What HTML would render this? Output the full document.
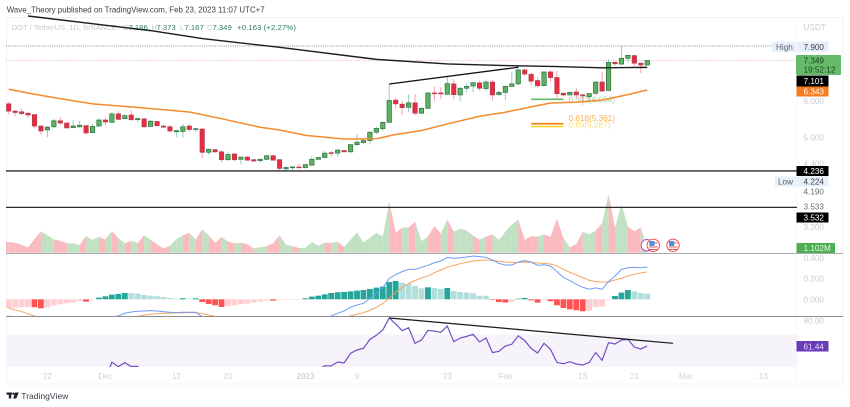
<!DOCTYPE html>
<html lang="en">
<head>
<meta charset="utf-8">
<title>DOT / TetherUS chart</title>
<style>
html,body{margin:0;padding:0;background:#fff;width:850px;height:407px;overflow:hidden}
svg{display:block;filter:blur(.3px);font-family:"Liberation Sans",sans-serif}
.ax{font-size:8.2px;fill:#c9ccd3}
.tm{font-size:8px;fill:#d0d3da;text-anchor:middle}
.tag{font-size:8.2px}
</style>
</head>
<body>
<svg id="chart" width="850" height="407" viewBox="0 0 850 407" xmlns="http://www.w3.org/2000/svg">
  <rect x="0" y="0" width="850" height="407" fill="#ffffff"/>
  <rect x="6.5" y="17.5" width="836.5" height="366.5" fill="none" stroke="#f1f3f8" stroke-width="1"/>
  <line x1="797" y1="18" x2="797" y2="384" stroke="#f6f7fa" stroke-width="1"/>
  <text x="6.7" y="12.5" font-size="8.6" fill="#3a3d45" textLength="258" lengthAdjust="spacingAndGlyphs">Wave_Theory published on TradingView.com, Feb 23, 2023 11:07 UTC+7</text>
  <g font-size="7.7">
    <text x="11.7" y="30" fill="#c8cbd3" textLength="105" lengthAdjust="spacingAndGlyphs">DOT / TetherUS, 1D, BINANCE</text>
    <text x="123" y="30" fill="#c8cbd3">O</text>
    <text x="128.5" y="30" fill="#2f7d5c">7.186</text>
    <text x="151.5" y="30" fill="#c8cbd3">H</text>
    <text x="156.5" y="30" fill="#2f7d5c">7.373</text>
    <text x="180" y="30" fill="#c8cbd3">L</text>
    <text x="184.5" y="30" fill="#2f7d5c">7.167</text>
    <text x="207" y="30" fill="#c8cbd3">C</text>
    <text x="212.5" y="30" fill="#2f7d5c">7.349</text>
    <text x="237" y="30" fill="#2f7d5c" textLength="59" lengthAdjust="spacingAndGlyphs">+0.163 (+2.27%)</text>
  </g>
  <g id="g-rsi-band"></g>
  <g id="g-volume"></g>
  <g id="g-macd"></g>
  <g id="g-guides"></g>
  <g id="g-candles"></g>
  <g id="g-lines"></g>
  <g id="g-rsi"></g>
  <line x1="6" y1="253.5" x2="843" y2="253.5" stroke="#a9abb0" stroke-width="1"/>
  <line x1="6" y1="316.5" x2="843" y2="316.5" stroke="#8b8d92" stroke-width="1"/>
  <g id="g-axis"></g>
  <g>
    <circle cx="647" cy="245.3" r="5.8" fill="#fff" stroke="#ab47bc" stroke-width="1"/>
    <g>
      <circle cx="653.3" cy="245.3" r="6.2" fill="#fff" stroke="#ef5350" stroke-width="1"/>
      <rect x="649" y="242.5" width="8.6" height="1" fill="#ef5350"/>
      <rect x="649" y="246.5" width="8.6" height="1" fill="#ef5350"/>
      <rect x="649" y="249" width="8.6" height="1" fill="#ef5350"/>
      <rect x="649.5" y="241" width="5" height="5" fill="#4a90e2"/>
    </g>
    <g>
      <circle cx="673" cy="245.3" r="6.2" fill="#fff" stroke="#ef5350" stroke-width="1"/>
      <rect x="668.7" y="242.5" width="8.6" height="1" fill="#ef5350"/>
      <rect x="668.7" y="246.5" width="8.6" height="1" fill="#ef5350"/>
      <rect x="668.7" y="249" width="8.6" height="1" fill="#ef5350"/>
      <rect x="669.2" y="241" width="5" height="5" fill="#4a90e2"/>
    </g>
  </g>
  <g>
    <text class="ax" x="803.5" y="30">USDT</text>
    <rect x="772" y="41.5" width="24" height="10.5" rx="1" fill="#e6effa"/>
    <text class="tag" x="776" y="49.8" fill="#5d606b">High</text>
    <rect x="796.5" y="41.5" width="32" height="10.5" rx="1" fill="#e6effa"/>
    <text class="tag" x="803.5" y="49.8" fill="#3e414a">7.900</text>
    <rect x="796" y="55" width="45" height="20" rx="1" fill="#66bb6a"/>
    <text class="tag" x="803.5" y="63.6" fill="#1c3d20">7.349</text>
    <text class="tag" x="803.5" y="72.6" fill="#1c3d20">19:52:12</text>
    <rect x="796.5" y="75.5" width="32" height="11" fill="#000"/>
    <text class="tag" x="803.5" y="83.8" fill="#fff">7.101</text>
    <rect x="796.5" y="86.5" width="32" height="10" fill="#f57c1f"/>
    <text class="tag" x="803.5" y="94.4" fill="#fff">6.343</text>
    <rect x="796.5" y="166" width="32" height="10" fill="#000"/>
    <text class="tag" x="803.5" y="174" fill="#fff">4.236</text>
    <rect x="775" y="176.5" width="21" height="10" rx="1" fill="#e6effa"/>
    <text class="tag" x="778" y="184.4" fill="#5d606b">Low</text>
    <rect x="796.5" y="176.5" width="32" height="10" rx="1" fill="#e6effa"/>
    <text class="tag" x="803.5" y="184.4" fill="#3e414a">4.224</text>
    <text class="tag" x="803.5" y="194.4" fill="#6a6d76">4.190</text>
    <text class="tag" x="803.5" y="209.7" fill="#6a6d76">3.533</text>
    <rect x="796.5" y="212.5" width="32" height="10" fill="#000"/>
    <text class="tag" x="803.5" y="220.5" fill="#fff">3.532</text>
    <text class="ax" x="803.5" y="230">3.200</text>
    <rect x="796.5" y="243" width="38.5" height="10" fill="#4caf50"/>
    <text class="tag" x="803.5" y="251" fill="#e8f5e9">1.102M</text>
    <rect x="796.5" y="341" width="32" height="10.5" fill="#673ab7"/>
    <text class="tag" x="803.5" y="349.3" fill="#e8def8">61.44</text>
  </g>
  <g>
    <g fill="#1e222d">
      <rect x="6.5" y="392.5" width="5.6" height="2.2"/>
      <rect x="8.8" y="392.5" width="2.4" height="6"/>
      <circle cx="13.6" cy="393.7" r="1.2"/>
      <polygon points="15.2,392.5 18.8,392.5 16.2,398.5 13.2,398.5"/>
    </g>
    <text x="21.3" y="399" font-size="8.6" fill="#3a3d45" textLength="47" lengthAdjust="spacingAndGlyphs">TradingView</text>
  </g>
</svg>
<script>
// Daily candles (USDT), 16 Nov 2022 to 23 Feb 2023
var opens=[5.92,5.71,5.69,5.65,5.61,5.30,5.20,5.28,5.44,5.38,5.26,5.28,5.31,5.13,5.30,5.46,5.40,5.63,5.50,5.60,5.47,5.49,5.29,5.42,5.30,5.28,5.15,5.16,5.30,5.21,5.22,4.65,4.71,4.66,4.48,4.61,4.49,4.54,4.48,4.46,4.49,4.57,4.48,4.28,4.31,4.32,4.31,4.36,4.49,4.53,4.64,4.63,4.69,4.66,4.83,4.88,4.93,5.14,5.23,5.40,6.03,5.91,5.82,5.95,5.65,5.79,6.25,6.25,6.21,6.54,6.19,6.40,6.47,6.57,6.39,6.60,6.20,6.27,6.46,6.54,7.01,6.86,6.65,6.48,6.94,6.75,6.24,6.19,6.28,6.19,6.14,6.24,6.60,6.33,7.28,7.22,7.43,7.53,7.25,7.186];
var highs=[5.98,5.74,5.78,5.67,5.63,5.32,5.30,5.49,5.54,5.39,5.46,5.44,5.33,5.36,5.52,5.52,5.69,5.71,5.63,5.74,5.52,5.53,5.46,5.44,5.33,5.33,5.20,5.36,5.36,5.26,5.25,4.73,4.72,4.70,4.66,4.63,4.55,4.56,4.50,4.50,4.59,4.59,4.50,4.34,4.34,4.39,4.39,4.56,4.54,4.68,4.68,4.74,4.70,4.85,5.09,4.96,5.16,5.28,5.42,6.54,6.09,6.01,6.21,6.21,5.82,6.28,6.45,6.43,6.81,6.70,6.42,6.56,6.61,6.65,6.67,6.67,6.32,6.49,6.93,7.13,7.07,6.90,6.78,6.95,7.01,6.97,6.27,6.29,6.40,6.24,6.25,6.63,6.94,7.40,7.32,7.90,7.56,7.56,7.27,7.373];
var lows=[5.60,5.56,5.60,5.52,5.24,5.07,5.01,5.25,5.33,5.25,5.24,5.25,5.07,5.11,5.28,5.32,5.38,5.46,5.48,5.44,5.41,5.26,5.27,5.28,5.25,5.14,5.01,5.00,5.15,5.13,4.52,4.59,4.64,4.42,4.46,4.44,4.38,4.46,4.44,4.41,4.47,4.46,4.24,4.24,4.25,4.30,4.28,4.35,4.48,4.51,4.55,4.55,4.65,4.64,4.80,4.84,4.84,5.09,5.18,5.39,5.77,5.60,5.68,5.59,5.63,5.77,6.01,6.06,6.19,6.06,6.01,6.26,6.27,6.32,6.31,6.01,6.16,6.03,6.44,6.51,6.80,6.50,6.40,6.47,6.61,6.09,6.15,6.17,6.06,5.89,5.97,6.19,6.29,6.31,7.15,7.19,7.26,7.13,6.90,7.167];
var closes=[5.71,5.67,5.64,5.60,5.30,5.17,5.27,5.44,5.38,5.25,5.30,5.32,5.12,5.29,5.46,5.41,5.63,5.48,5.58,5.47,5.50,5.28,5.43,5.31,5.27,5.17,5.18,5.28,5.21,5.23,4.65,4.72,4.66,4.48,4.60,4.48,4.54,4.47,4.45,4.49,4.57,4.47,4.29,4.31,4.32,4.31,4.37,4.49,4.53,4.63,4.63,4.70,4.66,4.83,4.89,4.93,5.14,5.24,5.40,6.02,5.92,5.81,5.95,5.65,5.79,6.25,6.23,6.22,6.55,6.20,6.40,6.46,6.58,6.40,6.60,6.19,6.27,6.46,6.54,7.01,6.87,6.63,6.48,6.94,6.75,6.23,6.19,6.27,6.19,6.16,6.23,6.60,6.31,7.28,7.23,7.43,7.54,7.25,7.186,7.349];
// Moving averages, read at selected days
var ma50Days=[0,4,8,13,19,28,33,39,42,46,52,57,60,64,68,73,77,81,84,88,92,96,99];
var ma50Values=[6.366,6.209,6.075,5.92,5.83,5.685,5.498,5.267,5.196,5.06,4.968,4.975,5.08,5.183,5.355,5.564,5.677,5.83,5.945,5.966,6.03,6.2,6.344];
var ma200Days=[3,22,30,42,57,68,79,85,92,99];
var ma200Values=[9.175,8.53,8.197,7.849,7.39,7.223,7.155,7.13,7.085,7.101];
// Volume in millions
var volumes=[2.5,2.34,1.8,1.25,3.2,5.0,4.1,3.1,2.8,2.2,2.2,1.8,3.9,3.0,3.7,3.1,5.1,3.4,2.2,2.8,2.2,4.1,3.0,2.0,1.0,1.6,3.2,4.1,4.6,3.1,5.5,4.1,2.3,3.7,2.6,2.2,2.3,2.0,1.0,1.3,1.5,2.2,4.1,1.9,1.5,1.1,1.1,2.5,1.6,2.4,2.3,2.6,1.3,3.0,4.8,2.4,3.5,4.6,3.8,12.0,4.7,5.9,5.9,7.3,2.7,3.8,6.25,4.5,7.8,4.9,5.6,5.2,4.0,3.0,3.75,4.3,3.0,4.9,6.6,7.8,3.0,3.9,3.75,4.3,3.75,8.0,3.4,1.25,2.0,4.9,4.3,5.2,6.9,13.75,5.9,11.3,6.1,5.0,5.9,1.102];
// MACD
var macdHist=[-.084,-.081,-.077,-.074,-.077,-.087,-.081,-.061,-.048,-.039,-.032,-.019,-.023,-.003,.016,.029,.045,.052,.061,.06,.055,.042,.035,.029,.023,.013,.006,.01,.006,.01,-.026,-.045,-.058,-.074,-.065,-.058,-.048,-.042,-.032,-.023,-.01,-.013,-.006,-.003,-.002,-.001,.01,.026,.035,.048,.061,.068,.071,.077,.084,.09,.1,.113,.123,.168,.177,.161,.148,.129,.106,.116,.11,.1,.11,.081,.071,.065,.058,.035,.034,-.003,-.026,-.032,-.023,.006,.013,-.01,-.032,-.006,-.019,-.058,-.084,-.097,-.106,-.116,-.11,-.074,-.071,-.003,.032,.065,.09,.077,.061,.055];
var macdLine=[-.16,-.18,-.2,-.21,-.22,-.24,-.25,-.25,-.24,-.24,-.23,-.23,-.22,-.22,-.2,-.19,-.17,-.161,-.135,-.123,-.116,-.113,-.11,-.113,-.119,-.126,-.129,-.126,-.126,-.126,-.168,-.19,-.21,-.24,-.25,-.26,-.27,-.27,-.28,-.28,-.28,-.28,-.28,-.3,-.29,-.28,-.27,-.25,-.23,-.21,-.161,-.135,-.113,-.077,-.055,-.039,.01,.058,.113,.203,.239,.268,.29,.29,.31,.329,.355,.371,.406,.397,.403,.41,.419,.413,.406,.381,.348,.332,.332,.361,.374,.361,.329,.335,.323,.268,.213,.181,.145,.116,.097,.11,.097,.171,.226,.29,.306,.31,.306,.313];
var macdSignal=[-.084,-.103,-.119,-.142,-.161,-.18,-.2,-.21,-.22,-.22,-.22,-.21,-.21,-.2,-.19,-.18,-.18,-.17,-.17,-.17,-.165,-.155,-.145,-.139,-.135,-.135,-.132,-.132,-.129,-.129,-.139,-.152,-.165,-.18,-.2,-.21,-.22,-.23,-.24,-.25,-.25,-.26,-.26,-.27,-.27,-.27,-.27,-.26,-.25,-.24,-.22,-.2,-.175,-.161,-.145,-.129,-.106,-.077,-.039,.01,.071,.113,.152,.181,.206,.226,.258,.284,.31,.329,.345,.358,.371,.377,.381,.374,.368,.361,.358,.358,.361,.358,.352,.348,.342,.323,.29,.261,.235,.21,.184,.171,.165,.168,.187,.203,.226,.242,.255,.265];
// RSI
var rsiValues=[44,42,40,38,30,28,32,38,36,33,34,35,31,34,39,38,49.5,46.3,49.2,46.4,46.5,40,42,40,38,36,34,36,38,37,26,26,27,27,24,28,26,28,27,26,27,30,28,22,23,23,23,38,44,47,46.8,49.7,49,56.1,58.5,59.7,66.3,69.3,73.2,82,77.6,72.7,74.9,63.4,65.8,72.9,72.4,71.5,76.1,64.6,67.3,68.5,70,64.4,67.3,56.6,57.5,61.4,62.7,69,65.4,59.7,56.3,63.4,59,49.4,48.4,49.9,48.2,47.5,49.4,56.6,50.9,63.9,62.9,65.8,66.3,60.7,59.2,61.44];
// Axis ticks and levels
var priceTickValues=[6,5,4.4];
var priceTickLabels=["6.000","5.000","4.400"];
var macdTickValues=[.4,.2,0];
var macdTickLabels=["0.400","0.200","0.000"];
var rsiTickValues=[80];
var rsiTickLabels=["80.00"];
var timeTickDays=[6,15,26,34,46,54,68,77,89,97,105,117];
var timeTickLabels=["22","Dec","12","20","2023","9","23","Feb","13","21","Mar","13"];
var levelPrices=[4.236,3.533];
var fibPrices=[6.054,5.361,5.287];
var fibNames=["0.382(6.054)","0.618(5.361)","0.65(5.287)"];
var highPrice=7.9;
var lastPrice=7.349;

var NS="http://www.w3.org/2000/svg";
var PANE_LEFT=6, PANE_RIGHT=797;
function xAt(i){return 8.7+6.45*i;}
function yPrice(p){return 46+Math.log(7.9/p)*200.5;}
function yVol(v){return 252.7-v*4.27;}
function yMacd(v){return 299.3-v*103.25;}
function yRsi(v){return 320.7+(80-v)*1.363;}
function make(tag,attrs,parent){
  var e=document.createElementNS(NS,tag);
  for(var k in attrs){e.setAttribute(k,attrs[k]);}
  parent.appendChild(e);
  return e;
}
var gBand=document.getElementById('g-rsi-band');
var gVol=document.getElementById('g-volume');
var gMacd=document.getElementById('g-macd');
var gGuides=document.getElementById('g-guides');
var gCandles=document.getElementById('g-candles');
var gLines=document.getElementById('g-lines');
var gRsi=document.getElementById('g-rsi');
var gAxis=document.getElementById('g-axis');
var svgRoot=document.getElementById('chart');
var defs=make('defs',{},svgRoot);
var c1=make('clipPath',{id:'clip-macd'},defs);
make('rect',{x:PANE_LEFT,y:254,width:PANE_RIGHT-PANE_LEFT,height:62.5},c1);
var c2=make('clipPath',{id:'clip-rsi'},defs);
make('rect',{x:PANE_LEFT,y:317,width:700,height:50},c2);
gMacd.setAttribute('clip-path','url(#clip-macd)');

// RSI band
var band=make('rect',{x:PANE_LEFT,y:yRsi(70),width:PANE_RIGHT-PANE_LEFT,height:367-yRsi(70),fill:'#f6f3fb'},gBand);



// Volume area
var volColorUp='#c2e1c3', volColorDown='#fbb9c0';
var stub=make('polygon',{points:PANE_LEFT+',252.7 '+PANE_LEFT+','+yVol(volumes[0])+' '+xAt(0)+','+yVol(volumes[0])+' '+xAt(0)+',252.7',fill:volColorDown},gVol);


for(var i=1;i<volumes.length;i++){
  var up=closes[i]>=opens[i];
  var pts=xAt(i-1)+',252.7 '+xAt(i-1)+','+yVol(volumes[i-1])+' '+xAt(i)+','+yVol(volumes[i])+' '+xAt(i)+',252.7';
  var seg=make('polygon',{points:pts,fill:up?volColorUp:volColorDown},gVol);
  
  
}

// MACD histogram
for(var h=0;h<macdHist.length;h++){
  var v=macdHist[h], prev=h?macdHist[h-1]:v, col;
  if(v>=0){col=v>=prev?'#26a69a':'#b2dfdb';}else{col=v<prev?'#ff5252':'#ffcdd2';}
  var y0=yMacd(0), y1=yMacd(v);
  var bar=make('rect',{x:xAt(h)-2.9,y:Math.min(y0,y1),width:5.8,height:Math.max(Math.abs(y1-y0),.6),fill:col},gMacd);
  
  
}
function linePath(vals,yf){
  var d='';
  for(var n=0;n<vals.length;n++){d+=(n?'L':'M')+xAt(n).toFixed(2)+' '+yf(vals[n]).toFixed(2);}
  return d;
}
var sigLine=make('path',{d:linePath(macdSignal,yMacd),fill:'none',stroke:'#f7a35c','stroke-width':1},gMacd);


var mLine=make('path',{d:linePath(macdLine,yMacd),fill:'none',stroke:'#6f9cf7','stroke-width':1},gMacd);



// Guides
var highLine=make('line',{x1:PANE_LEFT,x2:772,y1:yPrice(highPrice),y2:yPrice(highPrice),stroke:'#8a8d94','stroke-width':1,'stroke-dasharray':'1 1.2'},gGuides);


var lastLine=make('line',{x1:PANE_LEFT,x2:PANE_RIGHT,y1:yPrice(lastPrice),y2:yPrice(lastPrice),stroke:'#f6b4bb','stroke-width':1,'stroke-dasharray':'1 1.5'},gGuides);


var fibColors=['#66bb6a','#f57c00','#fdd835'];
var fibTextColors=['#a5d6a7','#f7b04f','#fbdc68'];
var fibTextY=[3,-2.5,1];
for(var f=0;f<fibPrices.length;f++){
  var fy=yPrice(fibPrices[f]);
  var fl=make('line',{x1:xAt(81),x2:xAt(86),y1:fy,y2:fy,stroke:fibColors[f],'stroke-width':1.6},gGuides);
  
  
  var ft=make('text',{x:568.5,y:fy+fibTextY[f],'font-size':8.2,fill:fibTextColors[f]},gGuides);
  ft.textContent=fibNames[f];
  
  
}

// Candles
for(var c=0;c<opens.length;c++){
  var isUp=closes[c]>=opens[c];
  var cx=xAt(c);
  var wick=make('line',{x1:cx,x2:cx,y1:yPrice(highs[c]),y2:yPrice(lows[c]),stroke:isUp?'#8fcfc4':'#f7a3ac','stroke-width':1},gCandles);
  
  
  var bodyTop=yPrice(Math.max(opens[c],closes[c])), bodyBottom=yPrice(Math.min(opens[c],closes[c]));
  var body=make('rect',{x:cx-2.2,y:bodyTop,width:4.4,height:Math.max(bodyBottom-bodyTop,.8),fill:isUp?'#5cb263':'#ea2b43',stroke:isUp?'#2f6f3f':'#b0404f','stroke-width':.7},gCandles);
  
  
}

// Moving averages and drawn lines
function seriesPath(days,vals){
  var d='';
  for(var n=0;n<days.length;n++){d+=(n?'L':'M')+xAt(days[n]).toFixed(2)+' '+yPrice(vals[n]).toFixed(2);}
  return d;
}
var ma50=make('path',{d:seriesPath(ma50Days,ma50Values),fill:'none',stroke:'#f58a2c','stroke-width':1.5},gLines);


var ma200=make('path',{d:seriesPath(ma200Days,ma200Values),fill:'none',stroke:'#1c1c20','stroke-width':1.4},gLines);


var trend=make('path',{d:seriesPath([59,79],[6.536,7.105]),fill:'none',stroke:'#111','stroke-width':1.3},gLines);


for(var l=0;l<levelPrices.length;l++){
  var ly=yPrice(levelPrices[l]);
  var lv=make('line',{x1:PANE_LEFT,x2:PANE_RIGHT,y1:ly,y2:ly,stroke:'#2b2b2f','stroke-width':1.3},gLines);
  
  
}

// RSI
var rsiGroup=make('g',{'clip-path':'url(#clip-rsi)'},gRsi);
var rsiPath=make('path',{d:linePath(rsiValues,yRsi),fill:'none',stroke:'#6f4fc4','stroke-width':1.2},rsiGroup);


var rsiTrend=make('line',{x1:xAt(59),y1:yRsi(82),x2:xAt(103),y2:yRsi(63.4),stroke:'#1a1a1e','stroke-width':1.2},gRsi);



// Axis ticks
function addTicks(vals,labels,yf,name){
  for(var t=0;t<vals.length;t++){
    var tx=make('text',{'class':'ax',x:803.5,y:yf(vals[t])+3},gAxis);
    tx.textContent=labels[t];
    
    
  }
}
addTicks(priceTickValues,priceTickLabels,yPrice,'price-axis-tick');
addTicks(macdTickValues,macdTickLabels,yMacd,'macd-axis-tick');
addTicks(rsiTickValues,rsiTickLabels,yRsi,'rsi-axis-tick');
for(var d=0;d<timeTickDays.length;d++){
  var lab=timeTickLabels[d];
  var tt=make('text',{'class':'tm',x:xAt(timeTickDays[d]),y:379},gAxis);
  if(lab==='2023'){tt.setAttribute('font-weight','bold');}
  tt.textContent=lab;
  
  
}
</script>
</body>
</html>
